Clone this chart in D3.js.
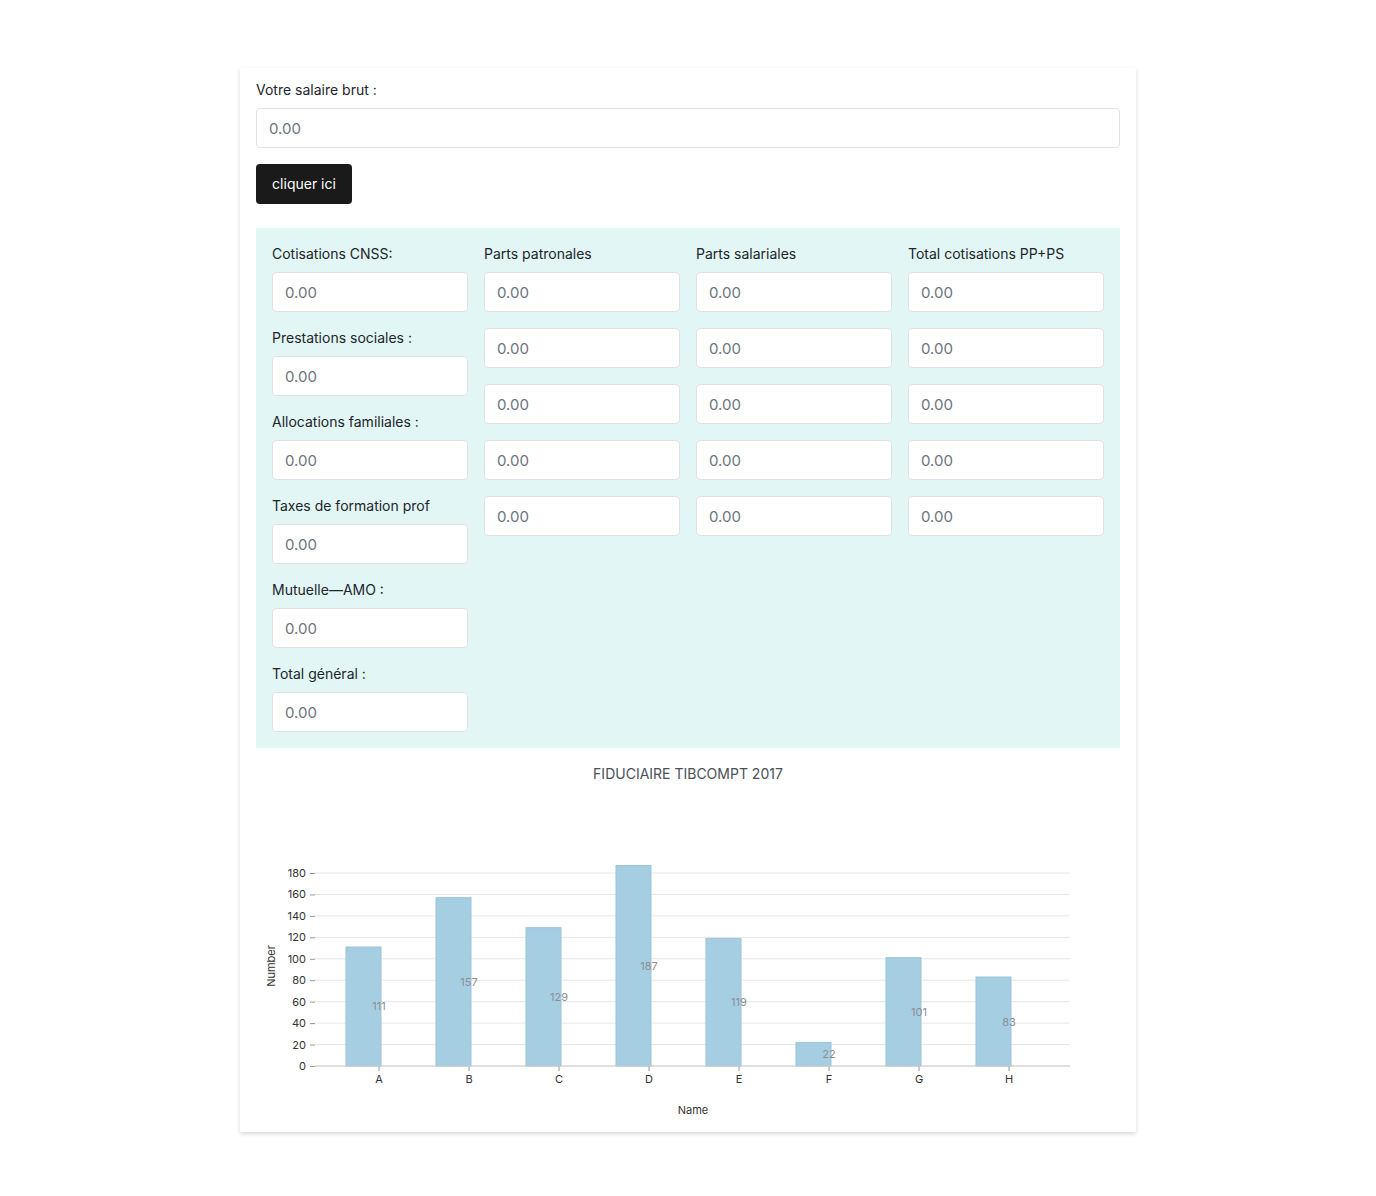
<!DOCTYPE html>
<html><head><meta charset="utf-8">
<script src="https://cdn.jsdelivr.net/npm/d3@7"></script>
<style>
body{margin:0;background:#fff;font-family:Inter,"Noto Sans",sans-serif;color:#212529;}
.card{position:absolute;left:240px;top:68px;width:896px;height:1064px;background:#fff;box-shadow:0 2px 4px rgba(0,0,0,.15);}
label{position:absolute;font-size:14px;color:#212529;}
.in{position:absolute;box-sizing:border-box;height:40px;border:1px solid #dee2e6;border-radius:4px;background:#fff;font-size:15px;color:#6c757d;padding:10px 12px;line-height:19px;}
.btn{position:absolute;left:16px;top:96px;width:96px;height:40px;background:#1a1a1a;color:#fff;border-radius:4px;font-size:14px;line-height:40px;text-align:center;}
.panel{position:absolute;left:16px;top:160px;width:864px;height:520px;background:#e3f6f6;}
svg{position:absolute;left:0;top:680px;}
</style></head><body>
<div class="card" id="card">
<label style="left:16px;top:13px">Votre salaire brut :</label>
<div class="in" style="left:16px;top:40px;width:864px">0.00</div>
<div class="btn">cliquer ici</div>
<div class="panel" id="panel"></div>
<svg id="chart" width="896" height="384"></svg>
</div>
<script>
const leftLabels = ["Cotisations CNSS:","Prestations sociales :","Allocations familiales :","Taxes de formation prof","Mutuelle—AMO :","Total général :"];
const colHeads = ["Parts patronales","Parts salariales","Total cotisations PP+PS"];
const names = ["A","B","C","D","E","F","G","H"];
const values = [111,157,129,187,119,22,101,83];
const yTicks = [0,20,40,60,80,100,120,140,160,180];

const panel = d3.select('#panel');
leftLabels.forEach((t,i)=>{
  panel.append('label').style('left','16px').style('top',(17+i*84)+'px').text(t);
  panel.append('div').attr('class','in').style('left','16px').style('top',(44+i*84)+'px').style('width','196px').text('0.00');
});
colHeads.forEach((t,c)=>{
  const x = 228 + c*212;
  panel.append('label').style('left',x+'px').style('top','17px').text(t);
  for(let r=0;r<5;r++){
    panel.append('div').attr('class','in').style('left',x+'px').style('top',(44+r*56)+'px').style('width','196px').text('0.00');
  }
});

const svg = d3.select('#chart');
svg.append('text').attr('x',448).attr('y',31).attr('text-anchor','middle')
  .attr('font-size',14).attr('fill','#495057').text('FIDUCIAIRE TIBCOMPT 2017');

const y = d3.scaleLinear().domain([0,180]).range([318,125]);
const x = d3.scaleBand().domain(names).range([94,814]);
const graph = svg.append('g');

graph.append('g').selectAll('line').data(yTicks).join('line')
  .attr('x1',75).attr('x2',830).attr('y1',d=>y(d)).attr('y2',d=>y(d))
  .attr('stroke','#e6e6e6');

const cx = d => x(d) + x.bandwidth()/2;
graph.selectAll('rect').data(values).join('rect')
  .attr('x',(d,i)=>cx(names[i])-33).attr('width',35)
  .attr('y',d=>y(d)).attr('height',d=>y(0)-y(d))
  .attr('fill','#a6cee3').attr('stroke','#9cc4da');
graph.selectAll('text.val').data(values).join('text').attr('class','val')
  .attr('x',(d,i)=>cx(names[i])).attr('y',d=>(y(d)+y(0))/2+4)
  .attr('text-anchor','middle').attr('font-size',11).attr('fill','#8a8f94').text(d=>d);

const yAxis = graph.append('g').attr('transform','translate(75,0)')
  .call(d3.axisLeft(y).tickValues(yTicks).tickSize(5).tickPadding(4));
const xAxis = graph.append('g').attr('transform',`translate(0,${y(0)})`)
  .call(d3.axisBottom(x).tickSize(5).tickPadding(4));
[xAxis,yAxis].forEach(a=>{
  a.select('.domain').remove();
  a.selectAll('line').attr('stroke','#999');
  a.selectAll('text').attr('font-size',11).attr('fill','#333').attr('font-family','Inter,sans-serif');
});
graph.append('line').attr('x1',75).attr('x2',830).attr('y1',y(0)).attr('y2',y(0)).attr('stroke','#ccc');
svg.append('text').attr('x',453).attr('y',366).attr('text-anchor','middle').attr('font-size',11).attr('fill','#333').text('Name');
svg.append('text').attr('transform','translate(35,218) rotate(-90)').attr('text-anchor','middle').attr('font-size',11).attr('fill','#333').text('Number');
</script>
</body></html>
